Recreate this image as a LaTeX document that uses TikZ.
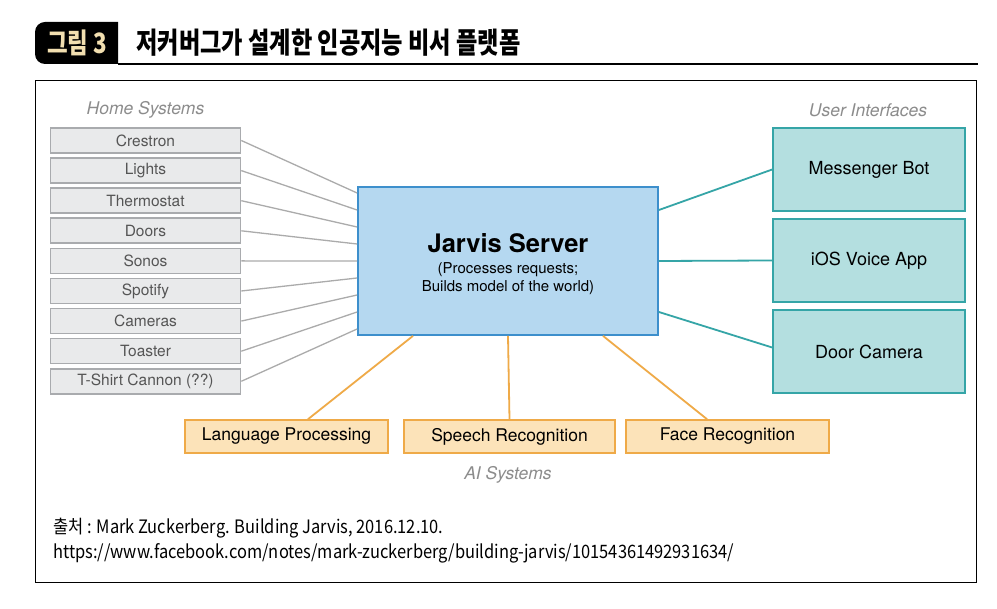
\documentclass[tikz,border=0pt]{standalone}
\usepackage{fontspec}
\setmainfont{TeX Gyre Heros}
\newfontfamily\krtitle[FakeStretch=0.8]{Noto Sans CJK KR}
\newfontfamily\krnote[FakeStretch=0.89]{Noto Sans CJK KR}
\usepackage{tikz}
\usetikzlibrary{positioning}
\definecolor{homefill}{HTML}{E9EAEB}
\definecolor{homeline}{HTML}{A9ABAE}
\definecolor{hometext}{HTML}{555555}
\definecolor{homelinkc}{HTML}{ABABAB}
\definecolor{srvfill}{HTML}{B5D8F0}
\definecolor{srvline}{HTML}{3D8FCC}
\definecolor{uifill}{HTML}{B4DFE0}
\definecolor{uiline}{HTML}{35A5A7}
\definecolor{aifill}{HTML}{FCE3B9}
\definecolor{ailine}{HTML}{EFAA48}
\definecolor{grptext}{HTML}{8C8C8C}
\definecolor{figlabel}{HTML}{F2DFB0}

\begin{document}
\begin{tikzpicture}[x=1pt,y=-1pt,
  homebox/.style={draw=homeline,line width=1.6pt,fill=homefill,text=hometext,
                  minimum width=190pt,minimum height=25pt,inner sep=0pt,
                  font=\fontsize{15.5}{18}\selectfont},
  uibox/.style={draw=uiline,line width=1.6pt,fill=uifill,text=black,
                minimum width=192pt,minimum height=83pt,inner sep=0pt,
                font=\fontsize{18}{21}\selectfont},
  aibox/.style={draw=ailine,line width=1.6pt,fill=aifill,text=black,
                minimum height=33pt,inner sep=0pt,font=\fontsize{17.5}{20}\selectfont},
  grp/.style={text=grptext,font=\fontsize{17.5}{20}\selectfont\itshape},
  homelink/.style={draw=homelinkc,line width=1.3pt},
  uilink/.style={draw=uiline,line width=1.8pt},
  ailink/.style={draw=ailine,line width=1.8pt},
  ]
  \fill[white] (0,0) rectangle (997,609);
  \useasboundingbox (0,0) rectangle (997,609);

  % ---- heading ----
  \fill[black] (118,22) -- (45,22) arc[start angle=90,end angle=180,radius=10pt]
        -- (35,54) arc[start angle=180,end angle=270,radius=10pt] -- (118,64) -- cycle;
  \node[text=figlabel,font=\krtitle\fontsize{28}{30}\selectfont\bfseries] (fig) at (77,43) {그림 3};
  \node[anchor=west,font=\krtitle\fontsize{29}{32}\selectfont\bfseries] (title) at (133,43)
       {저커버그가 설계한 인공지능 비서 플랫폼};
  \draw[line width=2.5pt] (118,64) -- (978,64);
  \draw[line width=1pt] (35,81) rectangle (976,583);

  % ---- Jarvis server ----
  \node[draw=srvline,line width=1.8pt,fill=srvfill,minimum width=300pt,minimum height=148pt,
        font=\fontsize{15}{18}\selectfont] (srv) at (508,261)
       {\raisebox{-4.5pt}[\height][\depth]{\begin{tabular}{@{}c@{}}
          {\fontsize{25.5}{26}\selectfont\bfseries Jarvis Server}\\[3pt]
          (Processes requests;\\Builds model of the world)\end{tabular}}};

  % ---- home systems ----
  \node[grp] (homelbl) at (145.5,110) {Home Systems};
  \foreach \name [count=\i] in {Crestron,Lights,Thermostat,Doors,Sonos,Spotify,Cameras,Toaster,{T-Shirt Cannon (??)}}{
    \node[homebox] (h\i) at (145.5,{110.4+30.1*\i}) {\name};
    \draw[homelink] (h\i.east) -- ([yshift={(5-\i)*17pt}]srv.west);
  }

  % ---- user interfaces ----
  \node[grp] (uilbl) at (868,110) {User Interfaces};
  \node[uibox] (mb)  at (869,169.5) {Messenger Bot};
  \node[uibox] (ios) at (869,260.5) {iOS Voice App};
  \node[uibox] (dc)  at (869,351.5) {Door Camera};
  \draw[uilink] ([yshift=51pt]srv.east) -- (mb.west);
  \draw[uilink] (srv.east) -- (ios.west);
  \draw[uilink] ([yshift=-51pt]srv.east) -- ([yshift=4pt]dc.west);

  % ---- AI systems ----
  \node[aibox,minimum width=203pt] (lp) at (286.5,436.5) {Language Processing};
  \node[aibox,minimum width=211pt] (sr) at (509.5,436.5) {Speech Recognition};
  \node[aibox,minimum width=203pt] (fr) at (727.5,436.5) {Face Recognition};
  \node[grp] (ailbl) at (508,475) {AI Systems};
  \draw[ailink] ([xshift=-95pt]srv.south) -- ([xshift=21.5pt]lp.north);
  \draw[ailink] (srv.south) -- (sr.north);
  \draw[ailink] ([xshift=95pt]srv.south) -- ([xshift=-20.5pt]fr.north);

  % ---- source ----
  \node[anchor=north west,align=left,inner sep=0pt,
        font=\krnote\fontsize{18.5}{25}\selectfont] (src) at (53,518)
       {출처 : Mark Zuckerberg. Building Jarvis, 2016.12.10.\\
        https://www.facebook.com/notes/mark-zuckerberg/building-jarvis/10154361492931634/};
\end{tikzpicture}
\end{document}
